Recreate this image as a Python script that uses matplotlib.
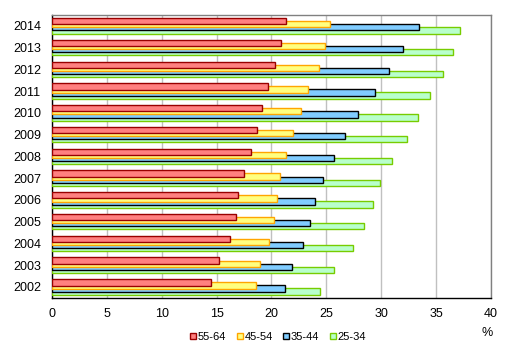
import matplotlib
matplotlib.use("Agg")
import matplotlib.pyplot as plt
import numpy as np

plt.rcParams['font.family'] = ['Liberation Sans', 'DejaVu Sans']

years = [2002, 2003, 2004, 2005, 2006, 2007, 2008, 2009, 2010, 2011, 2012, 2013, 2014]
s55_64 = [14.5, 15.2, 16.2, 16.8, 17.0, 17.5, 18.1, 18.7, 19.1, 19.7, 20.3, 20.9, 21.3]
s45_54 = [18.6, 19.0, 19.8, 20.2, 20.5, 20.8, 21.3, 22.0, 22.7, 23.3, 24.3, 24.9, 25.3]
s35_44 = [21.2, 21.9, 22.9, 23.5, 24.0, 24.7, 25.7, 26.7, 27.9, 29.4, 30.7, 32.0, 33.5]
s25_34 = [24.4, 25.7, 27.4, 28.4, 29.3, 29.9, 31.0, 32.4, 33.4, 34.5, 35.6, 36.6, 37.2]
labels = ['55-64', '45-54', '35-44', '25-34']
xticks = [0, 5, 10, 15, 20, 25, 30, 35, 40]

series = [s55_64, s45_54, s35_44, s25_34]
faces = ['#FF8080', '#FFFF80', '#80CCFF', '#B8FFCC']
edges = ['#990000', '#FFA500', '#000000', '#77CC00']

fig = plt.figure(figsize=(5.15, 3.55), dpi=100)
ax = fig.add_axes([0.101, 0.161, 0.852, 0.797])

y = np.arange(len(years))
step = 0.14
h = 0.29
offsets = [1.5 * step, 0.5 * step, -0.5 * step, -1.5 * step]
handles = []
for i in range(4):
    b = ax.barh(y + offsets[i], series[i], height=h, color=faces[i], edgecolor=edges[i],
                linewidth=1.0, zorder=10 - i, label=labels[i])
    handles.append(b)

ax.set_xlim(0, 40)
ax.set_ylim(-0.5, len(years) - 0.5)
ax.set_xticks(xticks)
ax.set_xticklabels([str(t) for t in xticks], fontsize=9)
ax.set_yticks(y)
ax.set_yticklabels([str(v) for v in years], fontsize=9)
ax.tick_params(axis='y', length=0, pad=8)
ax.tick_params(axis='x', length=0, pad=7)
ax.xaxis.grid(True, color='#C0C0C0', linewidth=1.0, zorder=0)
ax.set_axisbelow(True)
for s in ['top', 'right']:
    ax.spines[s].set_color('#808080')
    ax.spines[s].set_linewidth(1.0)
for s in ['left', 'bottom']:
    ax.spines[s].set_color('#000000')
    ax.spines[s].set_linewidth(1.0)

fig.text(487 / 515, 1 - 333 / 355, '%', fontsize=9, ha='center', va='center')

leg = fig.legend(handles, labels, loc='center', bbox_to_anchor=(278 / 515, 1 - 337 / 355),
                 ncol=4, frameon=False, fontsize=8, handlelength=0.55, handleheight=0.55,
                 handletextpad=0.15, columnspacing=0.95, borderaxespad=0)

fig.savefig('out.png', dpi=100)
